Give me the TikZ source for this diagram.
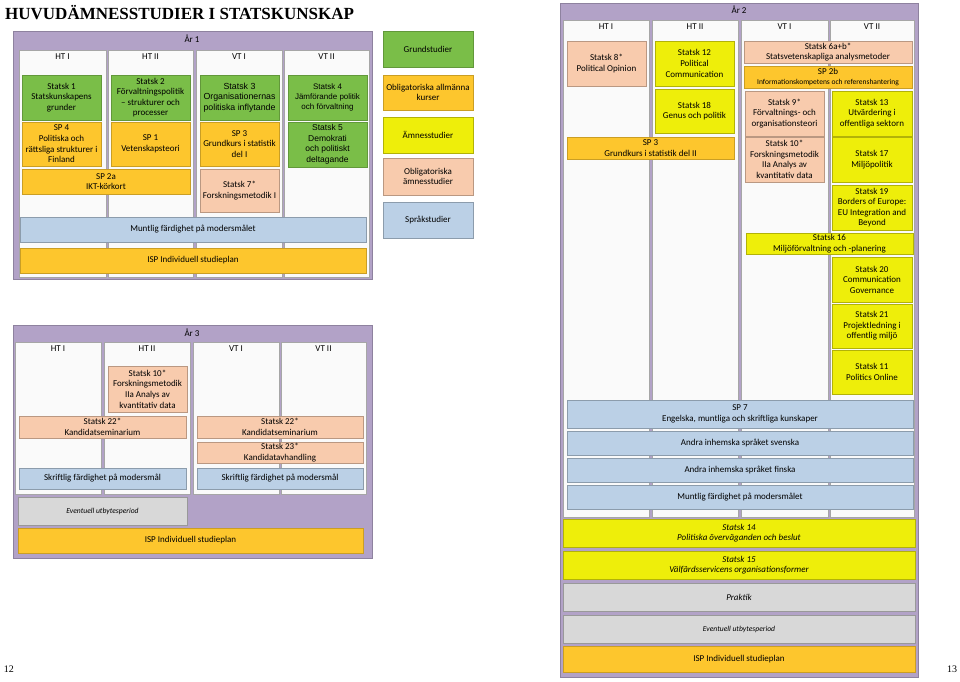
\documentclass[tikz,border=0pt]{standalone}
\usepackage{fontspec}
\setmainfont{Carlito}
\newfontfamily\arialfont{Liberation Sans}
\newfontfamily\titlefont{Liberation Serif}
\usetikzlibrary{positioning}

\definecolor{yearpurple}{RGB}{178,162,199}
\definecolor{grundgreen}{RGB}{122,190,72}
\definecolor{allmorange}{RGB}{253,198,45}
\definecolor{amneyellow}{RGB}{238,238,10}
\definecolor{oblpeach}{RGB}{248,203,173}
\definecolor{sprakblue}{RGB}{187,208,230}
\definecolor{ovriggray}{RGB}{216,216,216}

\begin{document}
\begin{tikzpicture}[x=1pt, y=-1pt]
        % Define styles
        \tikzset{
            yearframe/.style={fill=yearpurple, draw=yearpurple!80!black, line width=0.8pt},
            column/.style={fill=white!96!gray, draw=gray!70, line width=1pt},
            head/.style={font=\fontsize{9}{10}\selectfont},
            box/.style={line width=0.6pt, align=center, inner sep=1pt,
                minimum width=79, minimum height=45, font=\fontsize{9}{10.6}\selectfont},
            grund/.style={box, fill=grundgreen, draw=grundgreen!80!black},
            allm/.style={box, fill=allmorange, draw=allmorange!80!black},
            amne/.style={box, fill=amneyellow, draw=amneyellow!75!black},
            obl/.style={box, fill=oblpeach, draw=oblpeach!75!black},
            sprak/.style={box, fill=sprakblue, draw=sprakblue!75!black},
            ovrig/.style={box, fill=ovriggray, draw=gray!80, font=\fontsize{9}{10.6}\selectfont\itshape},
            legend/.style={minimum width=90, font=\fontsize{9}{10.4}\selectfont},
            small italic/.style={font=\fontsize{7.6}{9}\selectfont\itshape}
        }
        \useasboundingbox (0,0) rectangle (960,681);
        % Title
        \node[anchor=west, inner sep=0pt, font=\titlefont\bfseries\fontsize{17}{20}\selectfont] (title) at (5,13) {HUVUDÄMNESSTUDIER I STATSKUNSKAP};

        % Year 1
        \draw[yearframe] (13,31) rectangle (372,279);
        \node[head] (ar1) at (192,39) {År 1};
        \foreach \a/\b in {19/106, 108/193, 196/282, 284/369}
            \draw[column] (\a,50) rectangle (\b,277);
        \node[head] (a1ht1) at (62.5,57) {HT I};
        \node[head] (a1ht2) at (150.5,57) {HT II};
        \node[head] (a1vt1) at (239,57) {VT I};
        \node[head] (a1vt2) at (326.5,57) {VT II};
        \node[grund] (statsk1) at (61.5,97.5) {Statsk 1\\Statskunskapens\\grunder};
        \node[grund] (statsk2) at (150.5,97.5) {Statsk 2\\Förvaltningspolitik\\– strukturer och\\processer};
        \node[grund, font=\arialfont\fontsize{8.8}{10.6}\selectfont] (statsk3) at (239.5,97.5) {Statsk 3\\Organisationernas\\politiska inflytande};
        \node[grund, font=\arialfont\fontsize{8}{10}\selectfont] (statsk4) at (327.5,97.5) {Statsk 4\\Jämförande politik\\och förvaltning};
        \node[allm, minimum height=44] (sp4) at (61.5,144) {SP 4\\Politiska och\\rättsliga strukturer i\\Finland};
        \node[allm, minimum height=44] (sp1) at (150.5,144) {SP 1\\Vetenskapsteori};
        \node[allm, minimum height=44] (sp3a) at (239.5,144) {SP 3\\Grundkurs i statistik\\del I};
        \node[grund, font=\arialfont\fontsize{8.5}{10.5}\selectfont] (statsk5) at (327.5,144.5) {Statsk 5\\Demokrati\\och politiskt\\deltagande};
        \node[allm, minimum width=168, minimum height=25] (sp2a) at (106,181.5) {SP 2a\\IKT-körkort};
        \node[obl, minimum height=43] (statsk7) at (239.5,190.5) {Statsk 7*\\Forskningsmetodik I};
        \node[sprak, minimum width=346, minimum height=25] (muntlig1) at (193,229.5) {Muntlig färdighet på modersmålet};
        \node[allm, minimum width=346, minimum height=25] (isp1) at (193,260.5) {ISP Individuell studieplan};

        % Legend
        \node[grund, legend, minimum height=36] (grundstudier) at (428,49) {Grundstudier};
        \node[allm, legend, minimum height=35] (allmkurser) at (428,92.5) {Obligatoriska allmänna\\kurser};
        \node[amne, legend, minimum height=36] (amnesstudier) at (428,135) {Ämnesstudier};
        \node[obl, legend, minimum height=37] (oblamne) at (428,176.5) {Obligatoriska\\ämnesstudier};
        \node[sprak, legend, minimum height=36] (sprakstudier) at (428,220) {Språkstudier};

        % Year 3
        \draw[yearframe] (13,325) rectangle (372,558);
        \node[head] (ar3) at (192,333) {År 3};
        \foreach \a/\b in {15/101, 104/190, 193/279, 281/366}
            \draw[column] (\a,342) rectangle (\b,494);
        \node[head] (a3ht1) at (58,349) {HT I};
        \node[head] (a3ht2) at (147,349) {HT II};
        \node[head] (a3vt1) at (236,349) {VT I};
        \node[head] (a3vt2) at (323.5,349) {VT II};
        \node[obl, minimum height=46] (statsk10a) at (147.5,389) {Statsk 10*\\Forskningsmetodik\\IIa Analys av\\kvantitativ data};
        \node[obl, minimum width=167, minimum height=22] (statsk22a) at (102.5,427) {Statsk 22*\\Kandidatseminarium};
        \node[obl, minimum width=166, minimum height=22] (statsk22b) at (280,427) {Statsk 22*\\Kandidatseminarium};
        \node[obl, minimum width=166, minimum height=21] (statsk23) at (280,452.5) {Statsk 23*\\Kandidatavhandling};
        \node[sprak, minimum width=167, minimum height=21] (skriftlig1) at (102.5,478.5) {Skriftlig färdighet på modersmål};
        \node[sprak, minimum width=166, minimum height=21] (skriftlig2) at (280,478.5) {Skriftlig färdighet på modersmål};
        \node[ovrig, small italic, minimum width=169, minimum height=28] (utbyte3) at (102.5,511) {Eventuell utbytesperiod};
        \node[allm, minimum width=345, minimum height=25] (isp3) at (190.5,540.5) {ISP Individuell studieplan};

        % Year 2
        \draw[yearframe] (560,3) rectangle (918,677);
        \node[head] (ar2) at (739,10) {År 2};
        \foreach \a/\b in {563/649, 652/738, 741/828, 830/914}
            \draw[column] (\a,20) rectangle (\b,517);
        \node[head] (a2ht1) at (606,27) {HT I};
        \node[head] (a2ht2) at (695,27) {HT II};
        \node[head] (a2vt1) at (784.5,27) {VT I};
        \node[head] (a2vt2) at (872,27) {VT II};
        \node[obl] (statsk8) at (606.5,63.5) {Statsk 8*\\Political Opinion};
        \node[amne] (statsk12) at (694.5,63.5) {Statsk 12\\Political\\Communication};
        \node[amne, minimum height=44] (statsk18) at (694.5,111) {Statsk 18\\Genus och politik};
        \node[allm, minimum width=167, minimum height=22] (sp3b) at (650.5,148) {SP 3\\Grundkurs i statistik del II};
        \node[obl, minimum width=168, minimum height=22] (statsk6) at (828,52) {Statsk 6a+b*\\Statsvetenskapliga analysmetoder};
        \node[allm, minimum width=168, minimum height=22] (sp2b) at (828,77) {SP 2b\\{\fontsize{7.5}{8.5}\selectfont Informationskompetens och referenshantering}};
        \node[obl] (statsk9) at (784.5,113.5) {Statsk 9*\\Förvaltnings- och\\organisationsteori};
        \node[obl] (statsk10b) at (784.5,159.5) {Statsk 10*\\Forskningsmetodik\\IIa Analys av\\kvantitativ data};
        \node[amne, minimum width=80] (statsk13) at (872,113.5) {Statsk 13\\Utvärdering i\\offentliga sektorn};
        \node[amne, minimum width=80] (statsk17) at (872,159.5) {Statsk 17\\Miljöpolitik};
        \node[amne, minimum width=80] (statsk19) at (872,207.5) {Statsk 19\\Borders of Europe:\\EU Integration and\\Beyond};
        \node[amne, minimum width=167, minimum height=21] (statsk16) at (829.5,243.5) {Statsk 16\\Miljöförvaltning och -planering};
        \node[amne, minimum width=80] (statsk20) at (872,279.5) {Statsk 20\\Communication\\Governance};
        \node[amne, minimum width=80, minimum height=44] (statsk21) at (872,326) {Statsk 21\\Projektledning i\\offentlig miljö};
        \node[amne, minimum width=80, minimum height=44] (statsk11) at (872,372) {Statsk 11\\Politics Online};
        \node[sprak, minimum width=346, minimum height=28] (sp7) at (740,414) {SP 7\\Engelska, muntliga och skriftliga kunskaper};
        \node[sprak, minimum width=346, minimum height=24] (svenska) at (740,443) {Andra inhemska språket svenska};
        \node[sprak, minimum width=346, minimum height=24] (finska) at (740,470) {Andra inhemska språket finska};
        \node[sprak, minimum width=346, minimum height=24] (muntlig2) at (740,497) {Muntlig färdighet på modersmålet};
        \node[amne, minimum width=352, minimum height=28, font=\fontsize{9}{10.6}\selectfont\itshape] (statsk14) at (739,533) {Statsk 14\\Politiska överväganden och beslut};
        \node[amne, minimum width=352, minimum height=28, font=\fontsize{9}{10.6}\selectfont\itshape] (statsk15) at (739,565) {Statsk 15\\Välfärdsservicens organisationsformer};
        \node[ovrig, minimum width=352, minimum height=28] (praktik) at (739,597) {Praktik};
        \node[ovrig, small italic, minimum width=352, minimum height=28] (utbyte2) at (739,629) {Eventuell utbytesperiod};
        \node[allm, minimum width=352, minimum height=26] (isp2) at (739,659) {ISP Individuell studieplan};

        % Page numbers
        \node[font=\titlefont\fontsize{10}{12}\selectfont] (page12) at (9,669) {12};
        \node[font=\titlefont\fontsize{10}{12}\selectfont] (page13) at (952,669) {13};
    \end{tikzpicture}
\end{document}
